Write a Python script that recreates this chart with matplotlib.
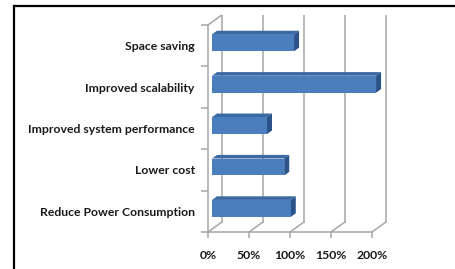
import matplotlib.pyplot as plt
from matplotlib.patches import Polygon
from matplotlib.lines import Line2D

categories = ["Reduce Power Consumption", "Lower cost", "Improved system performance",
              "Improved scalability", "Space saving"]
values = [96, 88, 67, 200, 100]
x_ticks = [0, 50, 100, 150, 200]
x_labels = ["0%", "50%", "100%", "150%", "200%"]

# fake 3d depth (data units)
DX, DY = 17.0, 0.242
GRID = "#a6a6a6"
FRONT, TOP, SIDE = "#4a7ebd", "#3b69a3", "#2b5289"

fig = plt.figure(figsize=(4.56, 2.69), dpi=100)
ax = fig.add_axes([208 / 456, 37 / 269, 180.4 / 456, 217 / 269])
ax.set_xlim(0, 220)
ax.set_ylim(0, 5 + DY)

# walls / grid
for v in x_ticks:
    ax.plot([v + DX, v + DX], [DY, 5 + DY], color=GRID, lw=1.1, zorder=1)
    ax.plot([v, v + DX], [0, DY], color=GRID, lw=1.1, zorder=1)
ax.plot([0, DX], [5, 5 + DY], color=GRID, lw=1.1, zorder=1)

# bars: front face sits at ~0.29 of depth, 0.36 deep
d0, d1 = 0.29, 0.36
h = 0.41
for i, v in enumerate(values):
    x0 = d0 * DX
    y0 = i + 0.5 - h / 2 + d0 * DY
    ddx, ddy = d1 * DX, d1 * DY
    ax.add_patch(Polygon([(x0, y0 + h), (x0 + v, y0 + h), (x0 + v + ddx, y0 + h + ddy),
                          (x0 + ddx, y0 + h + ddy)], closed=True, fc=TOP, ec="none", zorder=3))
    ax.add_patch(Polygon([(x0 + v, y0), (x0 + v + ddx, y0 + ddy), (x0 + v + ddx, y0 + h + ddy),
                          (x0 + v, y0 + h)], closed=True, fc=SIDE, ec="none", zorder=3))
    ax.barh(i + 0.5 + d0 * DY, v, height=h, left=x0, color=FRONT, zorder=4)

for s in ["top", "right"]:
    ax.spines[s].set_visible(False)
for s in ["left", "bottom"]:
    ax.spines[s].set_color(GRID)
    ax.spines[s].set_linewidth(1.1)
ax.spines["left"].set_bounds(0, 5)
ax.spines["bottom"].set_bounds(0, 200)

ax.set_yticks([i + 0.5 for i in range(5)])
ax.set_yticklabels(categories)
ax.set_yticks(range(6), minor=True)
ax.tick_params(axis="y", which="major", length=0, pad=9.5)
ax.tick_params(axis="y", which="minor", length=5, color=GRID, width=1.1)
ax.set_xticks(x_ticks)
ax.set_xticklabels(x_labels)
ax.tick_params(axis="x", length=4, color=GRID, width=1.1, pad=9)
for lab in ax.get_xticklabels() + ax.get_yticklabels():
    lab.set_fontfamily("Lato")
    lab.set_fontweight("bold")
    lab.set_fontsize(8.8)
    lab.set_color("#1a1a1a")

# outer frame (only top and left visible)
fig.add_artist(Line2D([14 / 456, 14 / 456], [0, 1 - 6 / 269], color="black", lw=1.6))
fig.add_artist(Line2D([14 / 456, 1], [1 - 6 / 269, 1 - 6 / 269], color="black", lw=1.6))

fig.savefig("out.png", dpi=100)
